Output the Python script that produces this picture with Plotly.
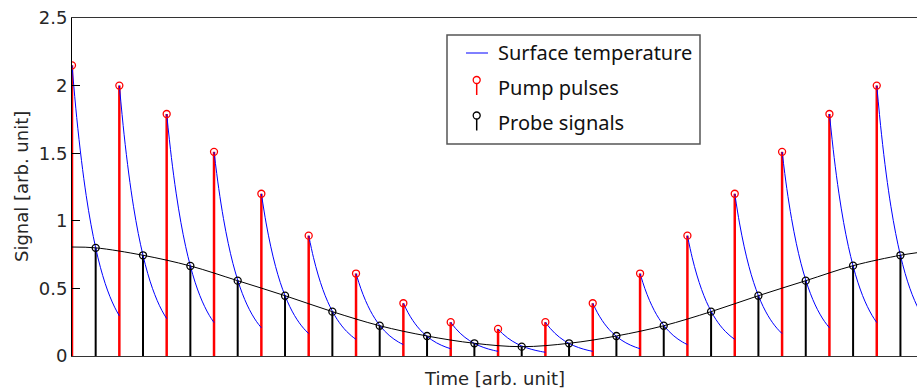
import plotly.graph_objects as go

# ---------------- data ----------------
pump_times = [0, 1, 2, 3, 4, 5, 6, 7, 8, 9, 10, 11, 12, 13, 14, 15, 16, 17]
pump_values = [2.15, 2.0, 1.79, 1.51, 1.20, 0.89, 0.61, 0.39, 0.25, 0.20,
               0.25, 0.39, 0.61, 0.89, 1.20, 1.51, 1.79, 2.0]

probe_times = [0.5, 1.5, 2.5, 3.5, 4.5, 5.5, 6.5, 7.5, 8.5, 9.5,
               10.5, 11.5, 12.5, 13.5, 14.5, 15.5, 16.5, 17.5]
probe_values = [0.80, 0.745, 0.666, 0.557, 0.446, 0.328, 0.224, 0.148, 0.094, 0.069,
                0.094, 0.148, 0.224, 0.328, 0.446, 0.557, 0.668, 0.745]

# smooth probe envelope (black curve), including its visible ends
envelope_times = [0.0] + probe_times + [17.85]
envelope_values = [0.806] + probe_values + [0.764]

# shape of the surface temperature decay after each pulse (fraction of pulse peak)
decay_offsets = [0.0, 0.1, 0.2, 0.3, 0.4, 0.5, 0.6, 0.7, 0.8, 0.9, 1.0]
decay_profile = [1.0, 0.82, 0.673, 0.552, 0.453, 0.372, 0.305, 0.25, 0.205, 0.168, 0.138]

x_max = 17.85

# ---------------- build traces ----------------
temp_x, temp_y = [], []
for t0, p in zip(pump_times, pump_values):
    for dt, f in zip(decay_offsets, decay_profile):
        temp_x.append(t0 + dt)
        temp_y.append(p * f)
    temp_x.append(None)
    temp_y.append(None)

def stems(xs, ys):
    sx, sy = [], []
    for x, y in zip(xs, ys):
        sx += [x, x, None]
        sy += [0, y, None]
    return sx, sy

pump_sx, pump_sy = stems(pump_times, pump_values)
probe_sx, probe_sy = stems(probe_times, probe_values)

fig = go.Figure()
fig.add_trace(go.Scatter(x=pump_sx, y=pump_sy, mode="lines",
                         line=dict(color="#ff0000", width=2.5), showlegend=False,
                         hoverinfo="skip"))
fig.add_trace(go.Scatter(x=probe_sx, y=probe_sy, mode="lines",
                         line=dict(color="#000000", width=2), showlegend=False,
                         hoverinfo="skip"))
fig.add_trace(go.Scatter(x=temp_x, y=temp_y, mode="lines",
                         line=dict(color="#0000ff", width=1, shape="spline"),
                         connectgaps=False, name="Surface temperature", showlegend=False))
fig.add_trace(go.Scatter(x=envelope_times, y=envelope_values, mode="lines",
                         line=dict(color="#000000", width=1, shape="spline"),
                         showlegend=False))
fig.add_trace(go.Scatter(x=pump_times, y=pump_values, mode="markers",
                         marker=dict(symbol="circle-open", size=7, color="#ff0000",
                                     line=dict(width=1.3, color="#ff0000")),
                         name="Pump pulses", showlegend=False))
fig.add_trace(go.Scatter(x=probe_times, y=probe_values, mode="markers",
                         marker=dict(symbol="circle-open", size=7, color="#000000",
                                     line=dict(width=1.3, color="#000000")),
                         name="Probe signals", showlegend=False))

# ---------------- layout ----------------
L, R, T, B = 72, 0, 18, 32
W, H = 917, 388
pw, ph = W - L - R, H - T - B

def px(xp):
    return (xp - L) / pw

def py(yp):
    return (H - B - yp) / ph

axis_font = dict(family="DejaVu Sans", size=18, color="#262626")
legend_font = dict(family="Noto Sans", size=20, color="#111111")

shapes = []
annotations = []

# custom legend box
shapes.append(dict(type="rect", xref="paper", yref="paper",
                   x0=px(447), x1=px(700), y0=py(144), y1=py(35),
                   line=dict(color="#555555", width=1.5), fillcolor="white", layer="above"))
# line icon
shapes.append(dict(type="line", xref="paper", yref="paper",
                   x0=px(466), x1=px(488), y0=py(53), y1=py(53),
                   line=dict(color="#0000ff", width=1), layer="above"))
# lollipop icons
for cy, col in [(80, "#ff0000"), (115.5, "#000000")]:
    shapes.append(dict(type="line", xref="paper", yref="paper",
                       x0=px(476.7), x1=px(476.7), y0=py(cy + 3.5), y1=py(cy + 15),
                       line=dict(color=col, width=1.5), layer="above"))
    shapes.append(dict(type="circle", xref="paper", yref="paper",
                       xsizemode="pixel", ysizemode="pixel",
                       xanchor=px(476.7), yanchor=py(cy),
                       x0=-3.5, x1=3.5, y0=-3.5, y1=3.5,
                       line=dict(color=col, width=1.3), layer="above"))

for text, cy in [("Surface temperature", 52.5), ("Pump pulses", 87), ("Probe signals", 122)]:
    annotations.append(dict(text=text, xref="paper", yref="paper",
                            x=px(496), y=py(cy), xanchor="left", yanchor="middle",
                            showarrow=False, font=legend_font))

# axis titles
annotations.append(dict(text="Time [arb. unit]", xref="paper", yref="paper",
                        x=0.5, y=py(378), xanchor="center", yanchor="middle",
                        showarrow=False, font=axis_font))
annotations.append(dict(text="Signal [arb. unit]", xref="paper", yref="paper",
                        x=px(21), y=0.5, xanchor="center", yanchor="middle",
                        textangle=-90, showarrow=False, font=axis_font))

fig.update_layout(
    width=W, height=H,
    margin=dict(l=L, r=R, t=T, b=B, pad=0),
    paper_bgcolor="white", plot_bgcolor="white",
    showlegend=False,
    shapes=shapes, annotations=annotations,
    xaxis=dict(range=[0, x_max], showgrid=False, zeroline=False,
               showticklabels=False, ticks="", showline=True,
               linecolor="#333333", linewidth=1, mirror=True),
    yaxis=dict(range=[0, 2.5], showgrid=False, zeroline=False,
               tickvals=[0, 0.5, 1, 1.5, 2, 2.5],
               ticktext=["0", "0.5", "1", "1.5", "2", "2.5"],
               ticks="inside", ticklen=8, tickcolor="#000000", tickwidth=1,
               showline=True, linecolor="#000000", linewidth=1,
               tickfont=axis_font),
)

fig.write_html("out.html")
